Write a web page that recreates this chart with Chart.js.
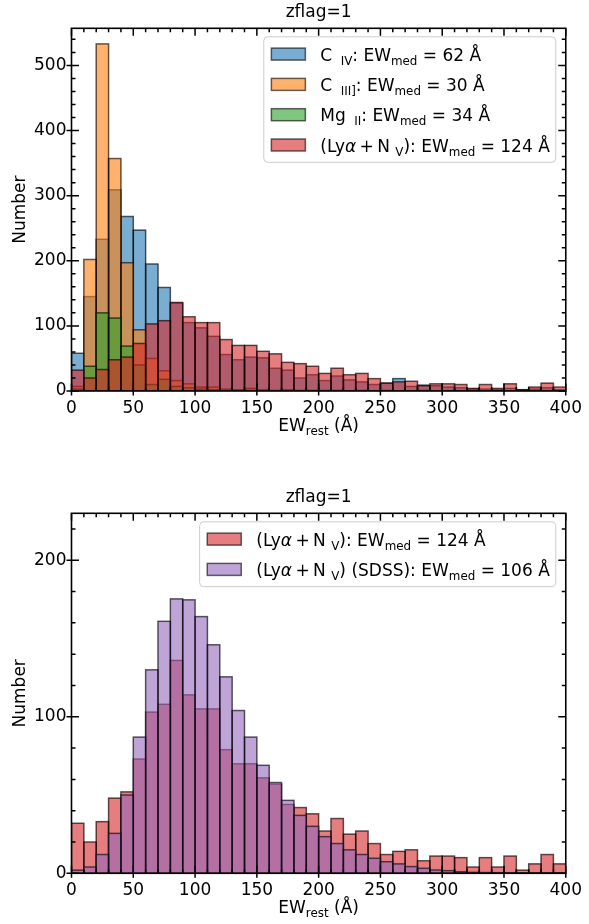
<!DOCTYPE html>
<html>
<head>
<meta charset="utf-8">
<script src="https://cdn.jsdelivr.net/npm/chart.js@4.4.1/dist/chart.umd.min.js"></script>
<style>
  html, body { margin: 0; padding: 0; background: #fff; }
  .panel { width: 589px; height: 462px; }
  canvas { display: block; }
</style>
</head>
<body>
<div class="panel"><canvas id="lines-hist" width="589" height="462"></canvas></div>
<div class="panel"><canvas id="lya-hist" width="589" height="462"></canvas></div>
<script>
// rest-frame equivalent width histograms, 10 Å bins from 0 to 400 Å
const binLefts = [0, 10, 20, 30, 40, 50, 60, 70, 80, 90,
  100, 110, 120, 130, 140, 150, 160, 170, 180, 190,
  200, 210, 220, 230, 240, 250, 260, 270, 280, 290,
  300, 310, 320, 330, 340, 350, 360, 370, 380, 390];
const binWidth = 10;

const civCounts = [58, 145, 233, 309, 268, 247, 195, 159, 135, 105,
  97, 84, 56, 48, 52, 51, 35, 32, 20, 25,
  16, 23, 17, 14, 10, 12, 19, 7, 9, 8,
  6, 5, 3, 3, 2, 4, 2, 3, 5, 2];
const ciiiCounts = [7, 202, 533, 357, 197, 94, 50, 31, 16, 11,
  6, 6, 3, 2, 4, 2, 1, 2, 1, 1,
  1, 1, 0, 1, 0, 1, 0, 0, 1, 0,
  0, 0, 0, 0, 0, 0, 0, 0, 0, 0];
const mgiiCounts = [3, 38, 120, 112, 69, 40, 10, 18, 7, 5,
  3, 2, 1, 1, 1, 0, 0, 0, 0, 0,
  0, 0, 0, 0, 0, 0, 0, 0, 0, 0,
  0, 0, 0, 0, 0, 0, 0, 0, 0, 0];
const lyaCounts = [32, 20, 33, 48, 52, 73, 103, 108, 136, 114,
  105, 105, 79, 70, 70, 61, 57, 44, 42, 38,
  27, 35, 25, 27, 19, 12, 14, 15, 8, 11,
  11, 10, 4, 10, 4, 11, 2, 6, 12, 6];
const sdssCounts = [2, 4, 12, 25.5, 50, 87, 130, 161, 175.3, 174.7,
  164, 146, 125.5, 104, 87, 69, 58, 46.6, 37, 30,
  23.4, 19, 15, 12, 9.6, 7.4, 6, 4.3, 3.2, 2.1,
  1.7, 1, 0.6, 0.5, 0.4, 0.3, 0.3, 0.3, 0.3, 0.3];

const xTicks = [0, 50, 100, 150, 200, 250, 300, 350, 400];
const yTicksTop = [0, 100, 200, 300, 400, 500];
const yTicksBottom = [0, 100, 200];

// text runs: plain, subscript, italic, extra gap (mathtext-like labels)
const R = t => ({ t });
const S = t => ({ t, sub: true });
const I = t => ({ t, it: true });
const G = px => ({ t: '', gap: px });

const medTail = (v) => [R(': EW'), S('med'), R(' = ' + v + ' Å')];
const civLabel = [R('C '), G(3), S('IV'), ...medTail(62)];
const ciiiLabel = [R('C '), G(3), S('III]'), ...medTail(30)];
const mgiiLabel = [R('Mg '), G(3), S('II'), ...medTail(34)];
const lyaHead = [R('(Ly'), I('α'), G(3.4), R('+'), G(3.4), R('N '), S('V')];
const lyaLabel = [...lyaHead, R(')'), ...medTail(124)];
const sdssLabel = [...lyaHead, R(') (SDSS)'), ...medTail(106)];
const xTitle = [R('EW'), S('rest'), R(' (Å)')];

const FONT = '"DejaVu Sans", sans-serif';
const FS = 17;
const EDGE = 'rgba(0,0,0,0.6)';

const colors = {
  civ: 'rgba(31,119,180,0.6)',
  ciii: 'rgba(255,127,14,0.6)',
  mgii: 'rgba(44,160,44,0.6)',
  lya: 'rgba(214,39,40,0.6)',
  sdss: 'rgba(148,103,189,0.6)'
};

function setRunFont(ctx, r) {
  const size = r.sub ? FS * 0.7 : FS;
  ctx.font = (r.it ? 'italic ' : '') + size + 'px ' + FONT;
}

function runAdvance(ctx, r) {
  if (r.gap) return r.gap;
  setRunFont(ctx, r);
  return ctx.measureText(r.t).width;
}

function runsWidth(ctx, runs) {
  return runs.reduce((w, r) => w + runAdvance(ctx, r), 0);
}

function drawRuns(ctx, runs, x, y, align) {
  let cx = align === 'center' ? x - runsWidth(ctx, runs) / 2 : x;
  ctx.textAlign = 'left';
  ctx.textBaseline = 'alphabetic';
  for (const r of runs) {
    if (!r.gap) {
      setRunFont(ctx, r);
      ctx.fillText(r.t, cx, y + (r.sub ? FS * 0.24 : 0));
    }
    cx += runAdvance(ctx, r);
  }
}

function histDataset(label, counts, color, order) {
  return {
    label,
    data: binLefts.map((b, i) => ({ x: b + binWidth / 2, y: counts[i] })),
    backgroundColor: color,
    borderWidth: 0,
    barPercentage: 1,
    categoryPercentage: 1,
    grouped: false,
    order
  };
}

// matplotlib-like frame: inward ticks on all sides, titles, legend box
function axesPlugin(cfg) {
  return {
    id: 'mplAxes',
    afterDatasetDraw(chart, args) {
      const ctx = chart.ctx, a = chart.chartArea;
      ctx.save();
      ctx.beginPath();
      ctx.rect(a.left, a.top, a.right - a.left, a.bottom - a.top);
      ctx.clip();
      ctx.strokeStyle = EDGE;
      ctx.lineWidth = 1.5;
      for (const bar of args.meta.data) {
        const p = bar.getProps(['x', 'y', 'base', 'width'], true);
        ctx.strokeRect(p.x - p.width / 2, p.y, p.width, p.base - p.y);
      }
      ctx.restore();
    },
    afterDraw(chart) {
      const ctx = chart.ctx, a = chart.chartArea;
      const xs = chart.scales.x, ys = chart.scales.y;
      ctx.save();
      ctx.strokeStyle = '#000';
      ctx.lineWidth = 1.5;
      ctx.beginPath();
      // x ticks
      for (let v = xs.min; v <= xs.max + 1e-6; v += cfg.xMinor) {
        const px = xs.getPixelForValue(v);
        const major = xTicks.includes(v);
        const len = major ? 7.5 : 4;
        ctx.moveTo(px, a.bottom + (major ? 4.5 : 0)); ctx.lineTo(px, a.bottom - len);
        ctx.moveTo(px, a.top); ctx.lineTo(px, a.top + len);
      }
      // y ticks
      for (let v = 0; v <= ys.max + 1e-6; v += cfg.yMinor) {
        const py = ys.getPixelForValue(v);
        const major = cfg.yTicks.includes(v);
        const len = major ? 7.5 : 4;
        ctx.moveTo(a.left - (major ? 5 : 0), py); ctx.lineTo(a.left + len, py);
        ctx.moveTo(a.right, py); ctx.lineTo(a.right - len, py);
      }
      ctx.stroke();
      ctx.lineWidth = 1.6;
      ctx.strokeRect(a.left, a.top, a.right - a.left, a.bottom - a.top);

      ctx.fillStyle = '#000';
      const cx = (a.left + a.right) / 2;
      drawRuns(ctx, [R('zflag=1')], cx, a.top - 11, 'center');
      drawRuns(ctx, xTitle, cx, a.bottom + 40, 'center');
      ctx.save();
      ctx.translate(25, (a.top + a.bottom) / 2);
      ctx.rotate(-Math.PI / 2);
      drawRuns(ctx, [R('Number')], 0, 0, 'center');
      ctx.restore();

      // legend
      const entries = cfg.legend;
      const textW = Math.max(...entries.map(e => runsWidth(ctx, e.runs)));
      const handleW = 34, handleH = 12, gapH = 15, padL = 7.6, padR = 6, rowH = 30.3, first = 17.3;
      const right = a.right - 10;
      const left = right - padR - textW - gapH - handleW - padL;
      const top = a.top + 8.5;
      const h = first * 2 + rowH * (entries.length - 1);
      ctx.beginPath();
      ctx.roundRect(left, top, right - left, h, 4);
      ctx.fillStyle = 'rgba(255,255,255,0.8)';
      ctx.fill();
      ctx.strokeStyle = '#cccccc';
      ctx.lineWidth = 1;
      ctx.stroke();
      entries.forEach((e, i) => {
        const cy = top + first + i * rowH;
        ctx.fillStyle = e.color;
        ctx.fillRect(left + padL, cy - handleH / 2, handleW, handleH);
        ctx.strokeStyle = EDGE;
        ctx.lineWidth = 1.5;
        ctx.strokeRect(left + padL, cy - handleH / 2, handleW, handleH);
        ctx.fillStyle = '#000';
        drawRuns(ctx, e.runs, left + padL + handleW + gapH, cy + 6.5, 'left');
      });
      ctx.restore();
    }
  };
}

function makePanel(canvasId, datasets, yMax, yTicks, padTop, xHeight, cfg) {
  cfg.yTicks = yTicks;
  return new Chart(document.getElementById(canvasId), {
    type: 'bar',
    data: { datasets },
    options: {
      responsive: false,
      animation: false,
      devicePixelRatio: 1,
      layout: { padding: { top: padTop, right: 18, bottom: 0, left: 0 } },
      plugins: { legend: { display: false }, tooltip: { enabled: false } },
      scales: {
        x: {
          type: 'linear',
          min: 0,
          max: 400,
          offset: false,
          grid: { display: false, drawTicks: false },
          border: { display: false },
          afterBuildTicks: s => { s.ticks = xTicks.map(v => ({ value: v })); },
          afterFit: s => { s.height = xHeight; },
          ticks: { color: '#000', padding: 7, maxRotation: 0, autoSkip: false, font: { family: FONT, size: FS } }
        },
        y: {
          min: 0,
          max: yMax,
          grid: { display: false, drawTicks: false },
          border: { display: false },
          afterBuildTicks: s => { s.ticks = yTicks.map(v => ({ value: v })); },
          afterFit: s => { s.width = 71.5; },
          ticks: { color: '#000', padding: 5, font: { family: FONT, size: FS } }
        }
      }
    },
    plugins: [axesPlugin(cfg)]
  });
}

// upper panel: four broad emission lines
makePanel('lines-hist', [
  histDataset('C IV', civCounts, colors.civ, 4),
  histDataset('C III]', ciiiCounts, colors.ciii, 3),
  histDataset('Mg II', mgiiCounts, colors.mgii, 2),
  histDataset('Lya+N V', lyaCounts, colors.lya, 1)
], 557, yTicksTop, 28.3, 71, {
  xMinor: 10, yMinor: 20,
  legend: [
    { runs: civLabel, color: colors.civ },
    { runs: ciiiLabel, color: colors.ciii },
    { runs: mgiiLabel, color: colors.mgii },
    { runs: lyaLabel, color: colors.lya }
  ]
});

// lower panel: Lya+N V against the SDSS sample
makePanel('lya-hist', [
  histDataset('Lya+N V', lyaCounts, colors.lya, 2),
  histDataset('Lya+N V (SDSS)', sdssCounts, colors.sdss, 1)
], 230, yTicksBottom, 51.3, 50.7, {
  xMinor: 10, yMinor: 20,
  legend: [
    { runs: lyaLabel, color: colors.lya },
    { runs: sdssLabel, color: colors.sdss }
  ]
});
</script>
</body>
</html>
